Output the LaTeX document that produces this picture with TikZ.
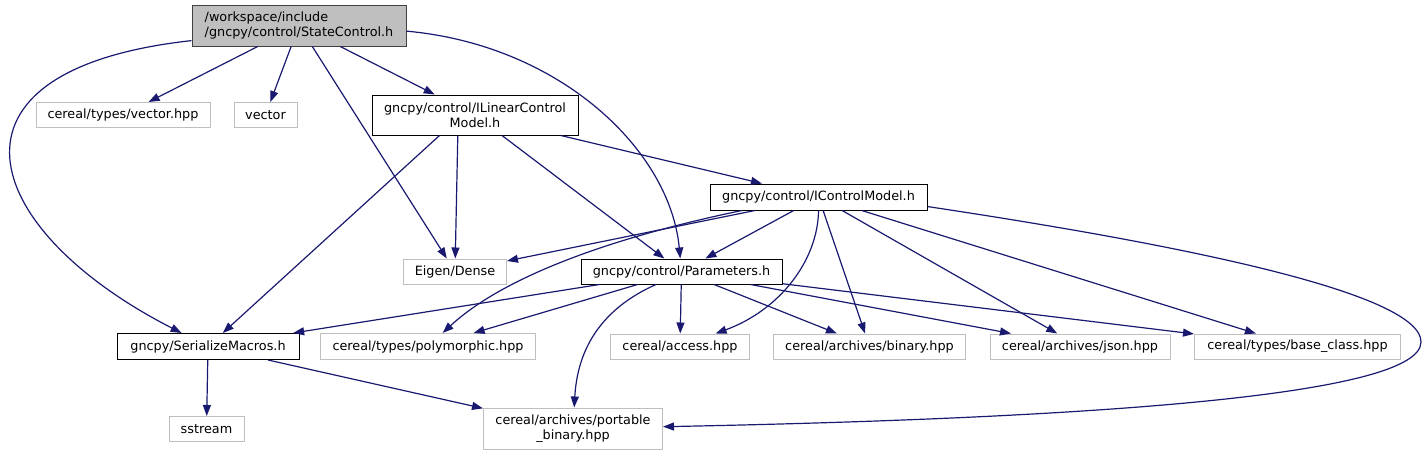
\documentclass[tikz,border=0pt]{standalone}
\usepackage{fontspec}
\setmainfont{DejaVu Sans}
\usetikzlibrary{arrows.meta, positioning}
\definecolor{edgeblue}{HTML}{191970}
\definecolor{extgray}{HTML}{BFBFBF}
\definecolor{rootline}{HTML}{404040}

\begin{document}
\begin{tikzpicture}[x=1pt, y=-1pt, font=\fontsize{12.8}{15.5}\selectfont,
    hdr/.style={draw=black, line width=1pt, minimum height=25pt, inner sep=0pt, align=center},
    sys/.style={hdr, draw=extgray},
    root/.style={hdr, fill=extgray, draw=rootline, align=left},
    dep/.style={-{Triangle[length=11pt, width=8pt]}, draw=edgeblue, line width=1.2pt}]
    \useasboundingbox (0,0) rectangle (1427,455);

    \node[root, minimum width=214pt, minimum height=41pt]
                                              (sc)       at (299,25.5)   {/workspace/include\\/gncpy/control/StateControl.h};
    \node[sys, minimum width=174pt]           (vechpp)   at (123,115)    {cereal/types/vector.hpp};
    \node[sys, minimum width=63pt]            (vector)   at (265.5,115)  {vector};
    \node[hdr, minimum width=206pt, minimum height=40pt]
                                              (ilcm)     at (475,115)    {gncpy/control/ILinearControl\\Model.h};
    \node[hdr, minimum width=217pt, minimum height=26pt]
                                              (icm)      at (818.5,197)  {gncpy/control/IControlModel.h};
    \node[sys, minimum width=103pt]           (eigen)    at (455,271.5)  {Eigen/Dense};
    \node[hdr, minimum width=201pt]           (params)   at (681.5,271.5) {gncpy/control/Parameters.h};
    \node[hdr, minimum width=182pt, minimum height=26pt]
                                              (sm)       at (208,346.5)  {gncpy/SerializeMacros.h};
    \node[sys, minimum width=215pt, minimum height=26pt]
                                              (poly)     at (428,346.5)  {cereal/types/polymorphic.hpp};
    \node[sys, minimum width=139pt]           (access)   at (680,346.5)  {cereal/access.hpp};
    \node[sys, minimum width=192pt]           (binary)   at (869.5,346.5) {cereal/archives/binary.hpp};
    \node[sys, minimum width=180pt]           (json)     at (1080,346.5) {cereal/archives/json.hpp};
    \node[sys, minimum width=206pt]           (base)     at (1297.5,346.5) {cereal/types/base\_class.hpp};
    \node[sys, minimum width=75pt]            (sstream)  at (206.5,429)  {sstream};
    \node[sys, minimum width=179pt, minimum height=41pt]
                                              (portable) at (573,428.5)  {cereal/archives/portable\\\_binary.hpp};

    % StateControl.h
    \draw[dep] (sc.188) .. controls (-75,70) and (-20,230) .. (sm);
    \draw[dep] (sc) -- (vechpp);
    \draw[dep] (sc) -- (vector);
    \draw[dep] (sc) -- (eigen);
    \draw[dep] (sc) -- (ilcm);
    \draw[dep] (sc.-3) .. controls (560,45) and (670,150) .. (params);

    % ILinearControlModel.h
    \draw[dep] (ilcm.210) -- (sm);
    \draw[dep] (ilcm.230) -- (eigen);
    \draw[dep] (ilcm) -- (params);
    \draw[dep] (ilcm) -- (icm);

    % IControlModel.h
    \draw[dep] (icm.192) -- (eigen);
    \draw[dep] (icm.190) .. controls (600,240) and (500,280) .. (poly);
    \draw[dep] (icm) -- (params);
    \draw[dep] (icm.south) .. controls (818,260) and (780,310) .. (access);
    \draw[dep] (icm) -- (binary);
    \draw[dep] (icm) -- (json);
    \draw[dep] (icm) -- (base);
    \draw[dep] (icm.-5) .. controls (1150,240) and (1421,290) .. (1421,342)
                        .. controls (1421,395) and (1100,418) .. (portable);

    % Parameters.h
    \draw[dep] (params) -- (sm);
    \draw[dep] (params) -- (poly);
    \draw[dep] (params.207) .. controls (610,305) and (578,340) .. (portable);
    \draw[dep] (params) -- (access);
    \draw[dep] (params) -- (binary);
    \draw[dep] (params) -- (json);
    \draw[dep] (params) -- (base);

    % SerializeMacros.h
    \draw[dep] (sm) -- (sstream);
    \draw[dep] (sm) -- (portable);
\end{tikzpicture}
\end{document}
